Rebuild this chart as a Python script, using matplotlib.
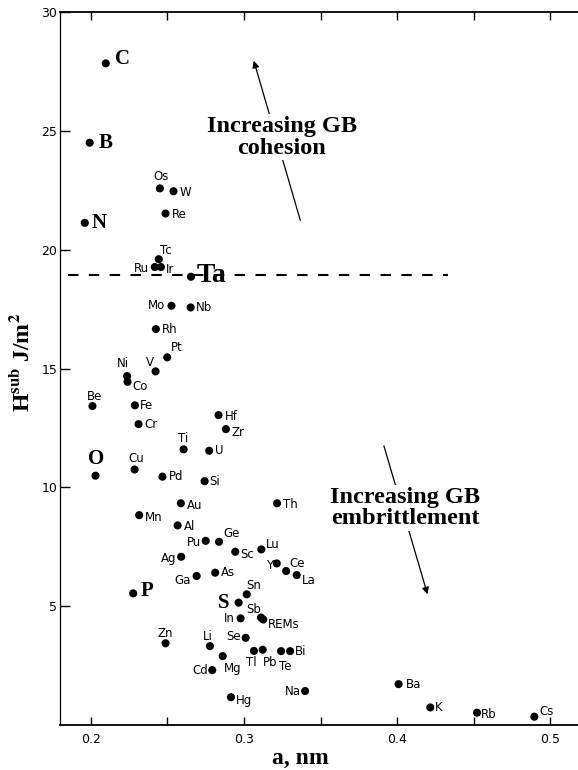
#Hsub vs lattice parameter a - GB cohesion / embrittlement map
import numpy as np
import matplotlib
matplotlib.use('Agg')
import matplotlib.pyplot as plt

#data
#element, a [nm], Hsub [J/m2]
elements = ['C', 'B', 'N', 'Os', 'W', 'Re', 'Tc', 'Ru', 'Ir', 'Ta',
            'Mo', 'Nb', 'Rh', 'Pt', 'V', 'Ni', 'Co', 'Be', 'Fe', 'Cr',
            'Hf', 'Zr', 'Ti', 'U', 'O', 'Cu', 'Pd', 'Si', 'Au', 'Th',
            'Mn', 'Al', 'Pu', 'Ge', 'Sc', 'Lu', 'Ag', 'Y', 'Ce', 'La',
            'Ga', 'As', 'P', 'Sn', 'S', 'In', 'Sb', 'REMs', 'Zn', 'Se',
            'Li', 'Mg', 'Cd', 'Tl', 'Pb', 'Te', 'Bi', 'Hg', 'Na', 'Ba',
            'K', 'Rb', 'Cs']
a_nm = [0.2098, 0.1993, 0.1961, 0.2451, 0.2540, 0.2488, 0.2444, 0.2418, 0.2458, 0.2654,
        0.2527, 0.2652, 0.2425, 0.2499, 0.2423, 0.2237, 0.2240, 0.2011, 0.2288, 0.2312,
        0.2834, 0.2882, 0.2606, 0.2773, 0.2031, 0.2286, 0.2468, 0.2743, 0.2588, 0.3216,
        0.2316, 0.2567, 0.2750, 0.2837, 0.2943, 0.3113, 0.2590, 0.3214, 0.3275, 0.3344,
        0.2691, 0.2812, 0.2277, 0.3018, 0.2965, 0.2978, 0.3111, 0.3126, 0.2488, 0.3011,
        0.2778, 0.2861, 0.2793, 0.3065, 0.3122, 0.3242, 0.3301, 0.2915, 0.3399, 0.4009,
        0.4216, 0.4521, 0.4895]
hsub = [27.84, 24.50, 21.13, 22.58, 22.46, 21.52, 19.60, 19.27, 19.27, 18.86,
        17.64, 17.57, 16.66, 15.47, 14.88, 14.68, 14.44, 13.42, 13.45, 12.66,
        13.04, 12.45, 11.60, 11.54, 10.49, 10.75, 10.45, 10.26, 9.33, 9.33,
        8.83, 8.40, 7.75, 7.71, 7.29, 7.39, 7.08, 6.80, 6.48, 6.31,
        6.27, 6.41, 5.54, 5.50, 5.15, 4.49, 4.52, 4.44, 3.44, 3.67,
        3.32, 2.90, 2.31, 3.12, 3.17, 3.11, 3.11, 1.17, 1.43, 1.72,
        0.74, 0.52, 0.35]

ta_level = 18.95  #dashed reference line (Ta)

#label placement: dx, dy in pixels, horizontal alignment
lab_pos = {'C': (9, 4, 'l'), 'B': (9, 0, 'l'), 'N': (7, 0, 'l'), 'Os': (1, 12, 'c'),
           'W': (6, -1, 'l'), 'Re': (6, -1, 'l'), 'Tc': (7, 9, 'c'), 'Ru': (-6, -1, 'r'),
           'Ir': (5, -2, 'l'), 'Ta': (6, 1, 'l'), 'Mo': (-6, 0, 'r'), 'Nb': (5, 0, 'l'),
           'Rh': (6, 0, 'l'), 'Pt': (4, 10, 'l'), 'V': (-6, 9, 'c'), 'Ni': (-4, 13, 'c'),
           'Co': (5, -5, 'l'), 'Be': (2, 10, 'c'), 'Fe': (5, 0, 'l'), 'Cr': (6, 0, 'l'),
           'Hf': (6, -1, 'l'), 'Zr': (6, -3, 'l'), 'Ti': (0, 11, 'c'), 'U': (6, 0, 'l'),
           'O': (1, 17, 'c'), 'Cu': (2, 11, 'c'), 'Pd': (6, 0, 'l'), 'Si': (5, 0, 'l'),
           'Au': (6, -2, 'l'), 'Th': (6, -1, 'l'), 'Mn': (6, -2, 'l'), 'Al': (6, -1, 'l'),
           'Pu': (-5, -2, 'r'), 'Ge': (4, 8, 'l'), 'Sc': (5, -3, 'l'), 'Lu': (5, 5, 'l'),
           'Ag': (-5, -2, 'r'), 'Y': (-4, -2, 'r'), 'Ce': (3, 8, 'l'), 'La': (5, -5, 'l'),
           'Ga': (-6, -4, 'r'), 'As': (6, 0, 'l'), 'P': (7, 2, 'l'), 'Sn': (0, 9, 'l'),
           'S': (-9, 0, 'r'), 'In': (-6, 0, 'r'), 'Sb': (-7, 8, 'c'), 'REMs': (5, -5, 'l'),
           'Zn': (0, 10, 'c'), 'Se': (-5, 1, 'r'), 'Li': (-2, 10, 'c'), 'Mg': (1, -12, 'l'),
           'Cd': (-4, 0, 'r'), 'Tl': (-3, -12, 'c'), 'Pb': (7, -13, 'c'), 'Te': (4, -15, 'c'),
           'Bi': (5, 0, 'l'), 'Hg': (5, -3, 'l'), 'Na': (-4, 0, 'r'), 'Ba': (7, 0, 'l'),
           'K': (5, 0, 'l'), 'Rb': (4, -2, 'l'), 'Cs': (5, 5, 'l')}
big_labels = ['C', 'B', 'N', 'O', 'P', 'S']
ha_map = {'l': 'left', 'r': 'right', 'c': 'center'}

plt.rcParams['mathtext.fontset'] = 'stix'
plt.rcParams['mathtext.default'] = 'bf'

fig = plt.figure(figsize=(5.78, 7.70), dpi=100)
ax = fig.add_axes([0.104, 0.0584, 0.896, 0.926])

#points
ax.scatter(a_nm, hsub, s=34, c='k', edgecolors='none', zorder=3)

#labels
for name, x, y in zip(elements, a_nm, hsub):
    dx, dy, ha = lab_pos[name]
    if name == 'Ta':
        kw = dict(fontsize=20, family='Liberation Serif', weight='bold')
    elif name in big_labels:
        kw = dict(fontsize=15, family='Liberation Serif', weight='bold')
    else:
        kw = dict(fontsize=8.5, family='DejaVu Sans')
    ax.annotate(name, (x, y), xytext=(dx, dy), textcoords='offset pixels',
                ha=ha_map[ha], va='center', zorder=4, **kw)

#dashed Ta level
ax.plot([0.185, 0.4333], [ta_level, ta_level], color='k', lw=1.5, ls=(0, (5, 5)), zorder=2)

#arrows (text boxes sit on top of them)
ax.annotate('', xy=(0.3059, 28.06), xytext=(0.3373, 21.12),
            arrowprops=dict(arrowstyle='-|>', color='k', lw=0.9, mutation_scale=10), zorder=1)
ax.annotate('', xy=(0.4203, 5.39), xytext=(0.3908, 11.86),
            arrowprops=dict(arrowstyle='-|>', color='k', lw=0.9, mutation_scale=10), zorder=1)
box = dict(facecolor='white', edgecolor='none', pad=1)
ax.text(0.3248, 24.73, 'Increasing GB\ncohesion', ha='center', va='center',
        family='Liberation Serif', weight='bold', fontsize=17.5, linespacing=1.05,
        bbox=box, zorder=5)
ax.text(0.4052, 9.13, 'Increasing GB\nembrittlement', ha='center', va='center',
        family='Liberation Serif', weight='bold', fontsize=17.5, linespacing=1.05,
        bbox=box, zorder=5)

#axes
ax.set_xlim(0.18, 0.518)
ax.set_ylim(0, 30)
ax.set_xticks(np.arange(0.2, 0.51, 0.05))
ax.set_xticklabels(['0.2', '', '0.3', '', '0.4', '', '0.5'])
ax.set_yticks([5, 10, 15, 20, 25, 30])
ax.tick_params(axis='x', direction='in', length=6, width=1, top=True, pad=6, labelsize=9)
ax.tick_params(axis='y', direction='in', length=7, width=1, pad=2, labelsize=9)
for lab in ax.get_xticklabels() + ax.get_yticklabels():
    lab.set_family('DejaVu Sans')
ax.spines['right'].set_visible(False)
ax.spines['top'].set_linewidth(1.3)
ax.spines['bottom'].set_linewidth(1.3)
ax.spines['left'].set_linewidth(0.9)

ax.set_xlabel(r'a, nm', fontsize=17, fontweight='bold', family='Liberation Serif', va='top')
ax.xaxis.set_label_coords(0.463, -0.032)
ax.set_ylabel(r'H$^{\mathbf{sub}}$ J/m$^{\mathbf{2}}$', fontsize=17, fontweight='bold',
              family='Liberation Serif')
ax.yaxis.set_label_coords(-0.05, 0.509)

fig.savefig('out.png', dpi=100)
